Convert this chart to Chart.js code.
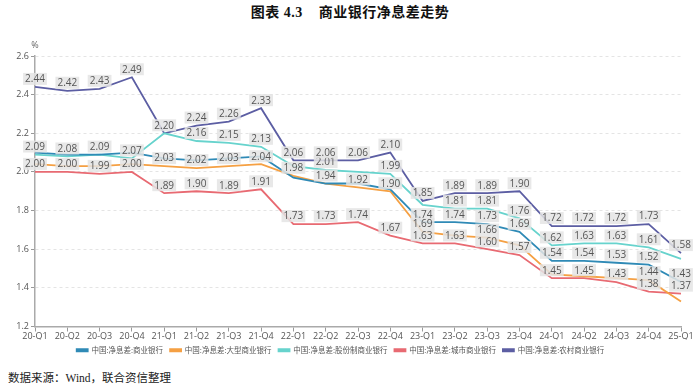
<!DOCTYPE html>
<html>
<head>
<meta charset="utf-8">
<script src="https://cdn.jsdelivr.net/npm/chart.js@4.4.1/dist/chart.umd.min.js"></script>
<style>
  html, body { margin: 0; padding: 0; background: #fff; }
  body { width: 700px; height: 388px; position: relative; overflow: hidden; }
  #title {
    position: absolute; top: 1px; left: 0; width: 700px; text-align: center;
    font-family: "Liberation Serif", "Noto Sans CJK SC", serif; font-weight: bold;
    font-size: 14px; color: #111; letter-spacing: 0.5px;
  }
  #wrap { position: absolute; top: 28px; left: 0; width: 700px; height: 336px; }
  #source {
    position: absolute; top: 369px; left: 8px;
    font-family: "Liberation Serif", "Noto Sans CJK SC", serif; font-size: 11.5px; color: #222;
  }
</style>
</head>
<body>
<div id="title">图表 4.3&nbsp;&nbsp;&nbsp;&nbsp;商业银行净息差走势</div>
<div id="wrap"><canvas id="nimChart"></canvas></div>
<div id="source">数据来源：Wind，联合资信整理</div>
<script>
const quarters = ["20-Q1", "20-Q2", "20-Q3", "20-Q4", "21-Q1", "21-Q2", "21-Q3", "21-Q4",
  "22-Q1", "22-Q2", "22-Q3", "22-Q4", "23-Q1", "23-Q2", "23-Q3", "23-Q4",
  "24-Q1", "24-Q2", "24-Q3", "24-Q4", "25-Q1"];

const commercial = [2.10, 2.09, 2.09, 2.10, 2.07, 2.06, 2.07, 2.08, 1.97, 1.94, 1.94, 1.91,
  1.74, 1.74, 1.73, 1.69, 1.54, 1.54, 1.53, 1.52, 1.43];
const large = [2.04, 2.03, 2.03, 2.04, 2.03, 2.02, 2.03, 2.04, 1.98, 1.94, 1.92, 1.90,
  1.69, 1.67, 1.66, 1.62, 1.47, 1.46, 1.45, 1.44, 1.33];
const jointStock = [2.09, 2.08, 2.09, 2.07, 2.20, 2.16, 2.15, 2.13, 2.03, 2.01, 2.00, 1.99,
  1.83, 1.81, 1.81, 1.76, 1.62, 1.63, 1.63, 1.61, 1.55];
const cityBank = [2.00, 2.00, 1.99, 2.00, 1.89, 1.90, 1.89, 1.91, 1.73, 1.73, 1.74, 1.67,
  1.63, 1.63, 1.60, 1.57, 1.45, 1.45, 1.43, 1.38, 1.37];
const ruralBank = [2.44, 2.42, 2.43, 2.49, 2.20, 2.24, 2.26, 2.33, 2.06, 2.06, 2.06, 2.10,
  1.85, 1.89, 1.89, 1.90, 1.72, 1.72, 1.72, 1.73, 1.58];

const seriesNames = ["中国:净息差:商业银行", "中国:净息差:大型商业银行", "中国:净息差:股份制商业银行",
  "中国:净息差:城市商业银行", "中国:净息差:农村商业银行"];

// which points carry a value label in the original (1 = shown)
const labelMasks = [
  "000000000000111111111",
  "000011111111101000010",
  "111101110101011111110",
  "111111111111111111111",
  "111111111111111111111"
];

const colors = ["#2f8ab6", "#f5a043", "#67d3cd", "#e86a72", "#5c5ea3"];
const yTicks = [1.2, 1.4, 1.6, 1.8, 2, 2.2, 2.4, 2.6];

const allSeries = [commercial, large, jointStock, cityBank, ruralBank];

const valueLabels = {
  id: "valueLabels",
  afterDatasetsDraw(chart) {
    const ctx = chart.ctx;
    ctx.save();
    ctx.font = "10px 'Open Sans', sans-serif";
    ctx.textAlign = "center";
    ctx.textBaseline = "middle";
    chart.data.datasets.forEach((ds, i) => {
      const meta = chart.getDatasetMeta(i);
      meta.data.forEach((pt, j) => {
        if (labelMasks[i][j] !== "1") return;
        const txt = ds.data[j].toFixed(2);
        const w = ctx.measureText(txt).width;
        const cy = pt.y - 8;
        ctx.fillStyle = "rgba(228,228,228,0.85)";
        ctx.fillRect(pt.x - w / 2 - 2, cy - 6, w + 4, 12);
        ctx.fillStyle = "#555";
        ctx.fillText(txt, pt.x, cy + 0.5);
      });
    });
    // unit label
    ctx.fillStyle = "#666";
    ctx.font = "9px 'Open Sans', sans-serif";
    ctx.fillText("%", chart.chartArea.left, chart.chartArea.top - 11);
    ctx.restore();
  }
};

const ctx = document.getElementById("nimChart").getContext("2d");

new Chart(ctx, {
  type: "line",
  data: {
    labels: quarters,
    datasets: allSeries.map((s, i) => ({
      label: seriesNames[i],
      data: s,
      borderColor: colors[i],
      backgroundColor: colors[i],
      borderWidth: 1.8,
      pointRadius: 0,
      tension: 0,
      fill: false
    }))
  },
  options: {
    responsive: true,
    maintainAspectRatio: false,
    animation: false,
    layout: { padding: { top: 28, right: 19, left: 0, bottom: 0 } },
    plugins: {
      legend: {
        position: "bottom",
        labels: {
          boxWidth: 11,
          boxHeight: 2,
          padding: 7,
          color: "#555",
          font: { size: 7.5, family: "'Noto Sans CJK SC', sans-serif" }
        }
      },
      tooltip: { enabled: false }
    },
    scales: {
      x: {
        offset: false,
        afterFit: (s) => { s.height = 13; },
        grid: { drawOnChartArea: false, drawTicks: true, tickLength: 5, tickColor: "#999" },
        border: { color: "#aaa", width: 1.5 },
        ticks: { color: "#555", font: { size: 9, family: "'Open Sans', sans-serif" }, maxRotation: 0, autoSkip: false, padding: 0 }
      },
      y: {
        min: 1.2,
        max: 2.6,
        afterFit: (s) => { s.width = 35; },
        afterBuildTicks: (s) => { s.ticks = yTicks.map(v => ({ value: v })); },
        grid: { color: "#e4e4e4", tickColor: "#999", tickLength: 4 },
        border: { color: "#aaa", width: 1.5, dash: [3, 3] },
        ticks: { color: "#555", font: { size: 9, family: "'Open Sans', sans-serif" }, padding: 2 }
      }
    }
  },
  plugins: [valueLabels]
});
</script>
</body>
</html>
